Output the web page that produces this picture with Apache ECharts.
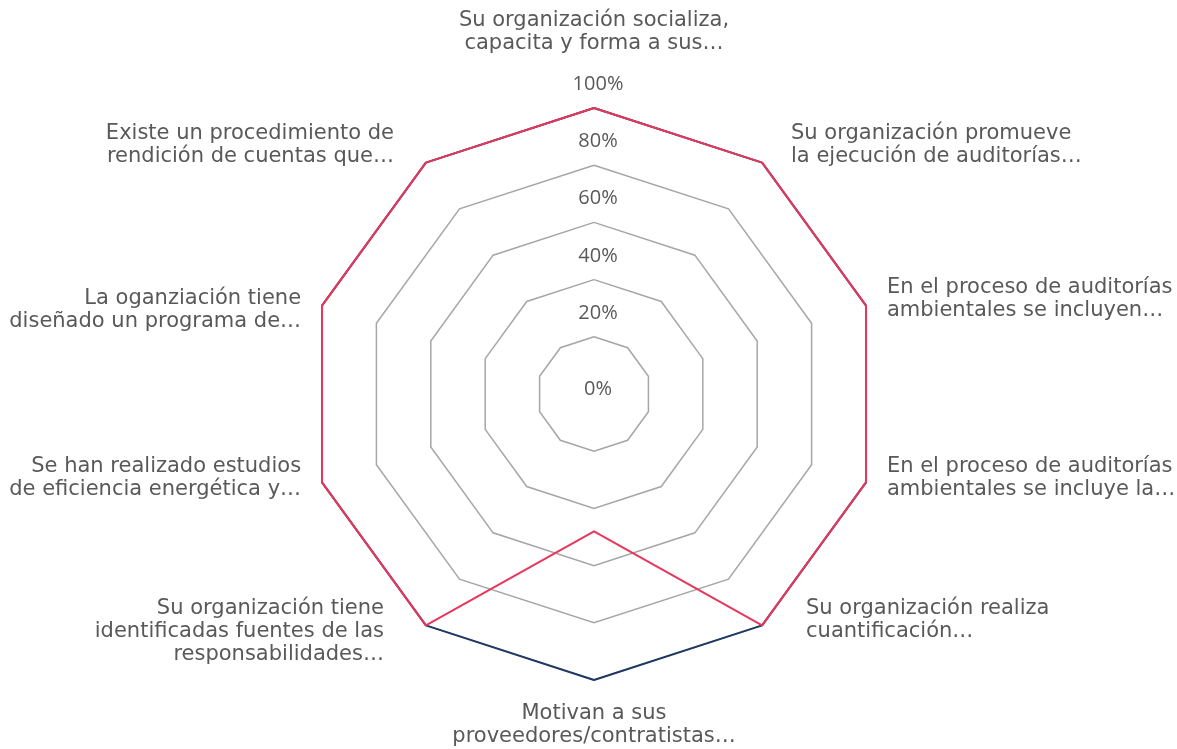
<!DOCTYPE html>
<html>
<head>
<meta charset="utf-8">
<script src="https://cdn.jsdelivr.net/npm/echarts@6/dist/echarts.min.js"></script>
<style>
  html, body { margin: 0; padding: 0; background: #fff; }
  #radarChart { width: 1177px; height: 749px; }
</style>
</head>
<body>
<div id="radarChart"></div>
<script>
// categories in the order they appear clockwise from the top
const categories = [
  "Su organización socializa,\ncapacita y forma a sus…",
  "Su organización promueve\nla ejecución de auditorías…",
  "En el proceso de auditorías\nambientales se incluyen…",
  "En el proceso de auditorías\nambientales se incluye la…",
  "Su organización realiza\ncuantificación…",
  "Motivan a sus\nproveedores/contratistas…",
  "Su organización tiene\nidentificadas fuentes de las\nresponsabilidades…",
  "Se han realizado estudios\nde eficiencia energética y…",
  "La oganziación tiene\ndiseñado un programa de…",
  "Existe un procedimiento de\nrendición de cuentas que…",
];
const seriesNavy = [100, 100, 100, 100, 100, 100, 100, 100, 100, 100];
const seriesRed = [100, 100, 100, 100, 100, 48, 100, 100, 100, 100];
const tickLabels = ["0%", "20%", "40%", "60%", "80%", "100%"];

// nudges so the names sit where excel put them (same clockwise order)
// sidePad: extra horizontal gap, blankLines: >0 lifts the label, <0 drops it
const sidePad = [0, 16, 0, 0, 31, 0, 29, 0, 0, 19];
const blankLines = [0, 0, 0, 1, 2, 0, 1, 1, -1, 0];

// echarts lays out radar indicators counter-clockwise, so flip the order
const ccw = (arr) => [arr[0]].concat(arr.slice(1).reverse());

const chart = echarts.init(document.getElementById("radarChart"));

const nameFont = "'DejaVu Sans', sans-serif";
const tickFont = "'Open Sans', sans-serif";

const names = ccw(categories);
const pads = ccw(sidePad);
const lines = ccw(blankLines);
const indicator = names.map((name, i) => {
  let label = name;
  if (lines[i] > 0) label = name + "\n".repeat(lines[i]);
  if (lines[i] < 0) label = "\n".repeat(-lines[i]) + name;
  const ind = { name: label, min: 0, max: 100 };
  if (pads[i]) {
    // right-hand labels are left aligned, left-hand ones right aligned
    const onRight = i > 5;
    ind.nameTextStyle = {
      padding: onRight ? [0, 0, 0, pads[i]] : [0, pads[i], 0, 0],
    };
  }
  if (i === 0) {
    ind.nameGap = 53;
    ind.axisLabel = { show: true };
  }
  return ind;
});

const option = {
  backgroundColor: "#fff",
  animation: false,
  radar: {
    center: [594, 394],
    radius: 286,
    startAngle: 90,
    shape: "polygon",
    splitNumber: 5,
    nameGap: 22,
    axisName: {
      color: "#595959",
      fontFamily: nameFont,
      fontSize: 21,
      lineHeight: 23,
    },
    axisLine: { show: false },
    axisTick: { show: false },
    splitArea: { show: false },
    splitLine: {
      lineStyle: { color: "#A6A6A6", width: 1.5 },
    },
    axisLabel: {
      show: false,
      margin: 0,
      align: "center",
      verticalAlign: "bottom",
      padding: [0, 0, 0, 8],
      lineHeight: 9.5,
      color: "#595959",
      fontFamily: tickFont,
      fontSize: 20,
      formatter: (v) => {
        const i = Math.round(v / 20);
        // the 0% label sits almost on the centre, the rest a bit above their ring
        return i === 0 ? tickLabels[i] : tickLabels[i] + "\n\n";
      },
    },
    indicator: indicator,
  },
  series: [
    {
      type: "radar",
      symbol: "none",
      z: 2,
      lineStyle: { color: "#1F3864", width: 2 },
      itemStyle: { color: "#1F3864" },
      data: [{ value: ccw(seriesNavy), name: "Serie 1" }],
    },
    {
      type: "radar",
      symbol: "none",
      z: 3,
      lineStyle: { color: "#E8375A", width: 2 },
      itemStyle: { color: "#E8375A" },
      data: [{ value: ccw(seriesRed), name: "Serie 2" }],
    },
  ],
};

chart.setOption(option);
</script>
</body>
</html>
